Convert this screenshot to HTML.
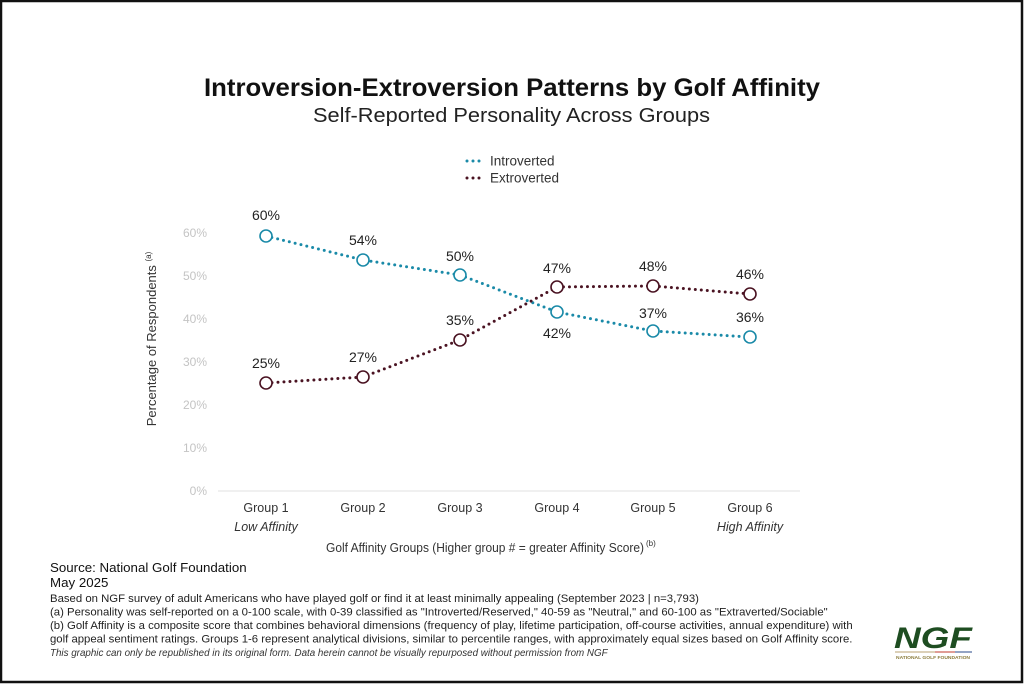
<!DOCTYPE html>
<html>
<head>
<meta charset="utf-8">
<style>
  html,body{margin:0;padding:0;background:#fff;}
  body{width:1024px;height:684px;overflow:hidden;}
  svg{display:block;}
  text{font-family:"Liberation Sans",sans-serif;}
</style>
</head>
<body>
<svg width="1024" height="684" viewBox="0 0 1024 684" xmlns="http://www.w3.org/2000/svg">
  <rect x="0" y="0" width="1024" height="684" fill="#fff"/>
  <rect x="1" y="1" width="1021" height="681" fill="none" stroke="#111" stroke-width="2.5"/>

  <!-- Titles -->
  <text x="204" y="96" font-size="25" font-weight="bold" fill="#111" textLength="616" lengthAdjust="spacingAndGlyphs">Introversion-Extroversion Patterns by Golf Affinity</text>
  <text x="313" y="122" font-size="20" fill="#222" textLength="397" lengthAdjust="spacingAndGlyphs">Self-Reported Personality Across Groups</text>

  <!-- Legend -->
  <line x1="467" y1="161" x2="484" y2="161" stroke="#1a8aa8" stroke-width="3" stroke-linecap="round" stroke-dasharray="0 6"/>
  <text x="490" y="165.5" font-size="13.5" fill="#333">Introverted</text>
  <line x1="467" y1="178" x2="484" y2="178" stroke="#4a1322" stroke-width="3" stroke-linecap="round" stroke-dasharray="0 6"/>
  <text x="490" y="182.5" font-size="13.5" fill="#333">Extroverted</text>

  <!-- Y tick labels -->
  <g font-size="12" fill="#c4c4c4" text-anchor="end">
    <text x="207" y="237">60%</text>
    <text x="207" y="280">50%</text>
    <text x="207" y="323">40%</text>
    <text x="207" y="366">30%</text>
    <text x="207" y="409">20%</text>
    <text x="207" y="452">10%</text>
    <text x="207" y="495">0%</text>
  </g>

  <!-- baseline -->
  <line x1="218" y1="491" x2="800" y2="491" stroke="#e2e2e2" stroke-width="1"/>

  <!-- Y axis title -->
  <text transform="translate(156,339) rotate(-90)" text-anchor="middle" font-size="13" fill="#333">Percentage of Respondents <tspan font-size="8" dy="-5">(a)</tspan></text>

  <!-- Series lines -->
  <polyline points="266,236 363,260 460,275 557,312 653,331 750,337" fill="none" stroke="#1a8aa8" stroke-width="3" stroke-linecap="round" stroke-dasharray="0 6"/>
  <polyline points="266,383 363,377 460,340 557,287 653,286 750,294" fill="none" stroke="#4a1322" stroke-width="3" stroke-linecap="round" stroke-dasharray="0 6"/>

  <!-- Markers -->
  <g fill="#fff" stroke="#1a8aa8" stroke-width="1.6">
    <circle cx="266" cy="236" r="6"/>
    <circle cx="363" cy="260" r="6"/>
    <circle cx="460" cy="275" r="6"/>
    <circle cx="557" cy="312" r="6"/>
    <circle cx="653" cy="331" r="6"/>
    <circle cx="750" cy="337" r="6"/>
  </g>
  <g fill="#fff" stroke="#4a1322" stroke-width="1.6">
    <circle cx="266" cy="383" r="6"/>
    <circle cx="363" cy="377" r="6"/>
    <circle cx="460" cy="340" r="6"/>
    <circle cx="557" cy="287" r="6"/>
    <circle cx="653" cy="286" r="6"/>
    <circle cx="750" cy="294" r="6"/>
  </g>

  <!-- Data labels -->
  <g font-size="14" fill="#222" text-anchor="middle">
    <text x="266" y="220">60%</text>
    <text x="363" y="245">54%</text>
    <text x="460" y="261">50%</text>
    <text x="557" y="338">42%</text>
    <text x="653" y="318">37%</text>
    <text x="750" y="322">36%</text>
    <text x="266" y="368">25%</text>
    <text x="363" y="362">27%</text>
    <text x="460" y="325">35%</text>
    <text x="557" y="273">47%</text>
    <text x="653" y="271">48%</text>
    <text x="750" y="279">46%</text>
  </g>

  <!-- X labels -->
  <g font-size="12.5" fill="#333" text-anchor="middle">
    <text x="266" y="512">Group 1</text>
    <text x="363" y="512">Group 2</text>
    <text x="460" y="512">Group 3</text>
    <text x="557" y="512">Group 4</text>
    <text x="653" y="512">Group 5</text>
    <text x="750" y="512">Group 6</text>
    <text x="266" y="531" font-style="italic">Low Affinity</text>
    <text x="750" y="531" font-style="italic">High Affinity</text>
  </g>
  <text x="326" y="552" font-size="13" fill="#333" textLength="318" lengthAdjust="spacingAndGlyphs">Golf Affinity Groups (Higher group # = greater Affinity Score)</text>
  <text x="646" y="546" font-size="8" fill="#333">(b)</text>

  <!-- Footer -->
  <text x="50" y="572" font-size="13.3" fill="#111">Source: National Golf Foundation</text>
  <text x="50" y="587" font-size="13.3" fill="#111">May 2025</text>
  <g font-size="11.35" fill="#222">
    <text x="50" y="602">Based on NGF survey of adult Americans who have played golf or find it at least minimally appealing (September 2023 | n=3,793)</text>
    <text x="50" y="615.5">(a) Personality was self-reported on a 0-100 scale, with 0-39 classified as "Introverted/Reserved," 40-59 as "Neutral," and 60-100 as "Extraverted/Sociable"</text>
    <text x="50" y="629">(b) Golf Affinity is a composite score that combines behavioral dimensions (frequency of play, lifetime participation, off-course activities, annual expenditure) with</text>
    <text x="50" y="642.5">golf appeal sentiment ratings. Groups 1-6 represent analytical divisions, similar to percentile ranges, with approximately equal sizes based on Golf Affinity score.</text>
  </g>
  <text x="50" y="656" font-size="9.8" font-style="italic" fill="#333">This graphic can only be republished in its original form. Data herein cannot be visually repurposed without permission from NGF</text>

  <!-- NGF logo -->
  <text x="933" y="648" text-anchor="middle" font-size="30" font-weight="bold" font-style="italic" fill="#1e4d21" textLength="78" lengthAdjust="spacingAndGlyphs">NGF</text>
  <line x1="895" y1="652" x2="935" y2="652" stroke="#b8a070" stroke-width="1"/>
  <line x1="935" y1="652" x2="955" y2="652" stroke="#c0392b" stroke-width="1"/>
  <line x1="955" y1="652" x2="972" y2="652" stroke="#2a4a8a" stroke-width="1"/>
  <text x="933" y="659" text-anchor="middle" font-size="4.5" font-weight="bold" fill="#8a7a3a" textLength="74" lengthAdjust="spacingAndGlyphs">NATIONAL GOLF FOUNDATION</text>
</svg>
</body>
</html>
